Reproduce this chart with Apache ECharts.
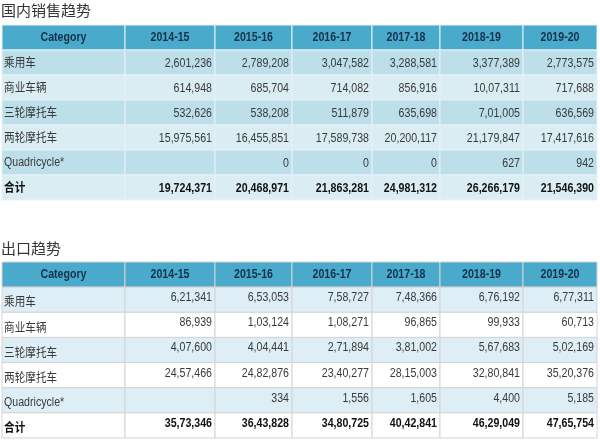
<!DOCTYPE html>
<html>
<head>
<meta charset="utf-8">
<script src="https://cdn.jsdelivr.net/npm/echarts@6/dist/echarts.min.js"></script>
<style>
  html, body { margin: 0; padding: 0; background: #ffffff; }
  #main { width: 600px; height: 442px; }
</style>
</head>
<body>
<div id="main"></div>
<script>
// 表头与分类
var years = ['2014-15', '2015-16', '2016-17', '2017-18', '2018-19', '2019-20'];
var categories = ['乘用车', '商业车辆', '三轮摩托车', '两轮摩托车', 'Quadricycle*', '合计'];

// 国内销售趋势（按图中原样书写）
var domPassenger  = ['2,601,236', '2,789,208', '3,047,582', '3,288,581', '3,377,389', '2,773,575'];
var domCommercial = ['614,948', '685,704', '714,082', '856,916', '10,07,311', '717,688'];
var domThreeWheel = ['532,626', '538,208', '511,879', '635,698', '7,01,005', '636,569'];
var domTwoWheel   = ['15,975,561', '16,455,851', '17,589,738', '20,200,117', '21,179,847', '17,417,616'];
var domQuad       = ['', '0', '0', '0', '627', '942'];
var domTotal      = ['19,724,371', '20,468,971', '21,863,281', '24,981,312', '26,266,179', '21,546,390'];

// 出口趋势
var expPassenger  = ['6,21,341', '6,53,053', '7,58,727', '7,48,366', '6,76,192', '6,77,311'];
var expCommercial = ['86,939', '1,03,124', '1,08,271', '96,865', '99,933', '60,713'];
var expThreeWheel = ['4,07,600', '4,04,441', '2,71,894', '3,81,002', '5,67,683', '5,02,169'];
var expTwoWheel   = ['24,57,466', '24,82,876', '23,40,277', '28,15,003', '32,80,841', '35,20,376'];
var expQuad       = ['', '334', '1,556', '1,605', '4,400', '5,185'];
var expTotal      = ['35,73,346', '36,43,828', '34,80,725', '40,42,841', '46,29,049', '47,65,754'];

// 列宽（布局用）
var colWidths = [123, 90, 77, 80, 68, 83, 74];
var edges = [0];
colWidths.forEach(function (w, i) { edges.push(edges[i] + w); });
var totalWidth = edges[edges.length - 1];

var LATIN = "'Liberation Sans', Arial, sans-serif";
var CJK = "'Noto Sans CJK SC', sans-serif";
var SQUEEZE = 0.85; // 原图文字偏窄

function buildCells(rows) {
  var cells = [];
  var header = ['Category'].concat(years);
  header.forEach(function (t, c) { cells.push([c, 0, t]); });
  rows.forEach(function (row, r) {
    cells.push([0, r + 1, categories[r]]);
    row.forEach(function (t, c) { cells.push([c + 1, r + 1, t]); });
  });
  return cells;
}

function makeRender(cells, theme) {
  return function (params, api) {
    var c = api.value(0), r = api.value(1);
    var text = cells[params.dataIndex][2];
    var x0 = api.coord([edges[c], r])[0];
    var x1 = api.coord([edges[c + 1], r])[0];
    var yc = api.coord([0, r])[1];
    var h = api.size([0, 1])[1];
    var fill = r === 0 ? theme.header : (r % 2 === 1 ? theme.odd : theme.even);
    var isCjk = /[\u4e00-\u9fff]/.test(text);
    var bold = r === 0 || r === 6;
    var style = {
      text: text,
      x: 0, y: 0,
      fill: r === 0 ? '#13324b' : (r === 6 ? '#111' : '#3a3a3a'),
      font: (bold ? 'bold ' : '') + (isCjk ? '12.5px ' + CJK : '12.5px ' + LATIN),
      textVerticalAlign: 'middle'
    };
    var tx, ty = yc;
    if (r === 0) { tx = (x0 + x1) / 2; style.textAlign = 'center'; }
    else if (c === 0) { tx = x0 + 2; style.textAlign = 'left'; ty = yc + theme.labelShift; }
    else { tx = x1 - 3; style.textAlign = 'right'; ty = yc + theme.numShift; }
    return {
      type: 'group',
      children: [
        { type: 'rect', shape: { x: x0, y: yc - h / 2, width: x1 - x0, height: h },
          style: { fill: fill, stroke: theme.border, lineWidth: 1 } },
        { type: 'text', x: tx, y: ty, scaleX: SQUEEZE, style: style }
      ]
    };
  };
}

var domCells = buildCells([domPassenger, domCommercial, domThreeWheel, domTwoWheel, domQuad, domTotal]);
var expCells = buildCells([expPassenger, expCommercial, expThreeWheel, expTwoWheel, expQuad, expTotal]);
var rowNames = ['Category'].concat(categories);

var chart = echarts.init(document.getElementById('main'));
chart.setOption({
  animation: false,
  backgroundColor: '#ffffff',
  title: [
    { text: '国内销售趋势', left: 1, top: 3, padding: 0,
      textStyle: { fontFamily: CJK, fontSize: 15, fontWeight: 'normal', color: '#333' } },
    { text: '出口趋势', left: 1, top: 241, padding: 0,
      textStyle: { fontFamily: CJK, fontSize: 15, fontWeight: 'normal', color: '#333' } }
  ],
  grid: [
    { left: 2, top: 25, width: totalWidth, height: 175 },
    { left: 2, top: 262, width: totalWidth, height: 176 }
  ],
  xAxis: [
    { type: 'value', gridIndex: 0, min: 0, max: totalWidth, show: false },
    { type: 'value', gridIndex: 1, min: 0, max: totalWidth, show: false }
  ],
  yAxis: [
    { type: 'category', gridIndex: 0, data: rowNames, inverse: true, show: false },
    { type: 'category', gridIndex: 1, data: rowNames, inverse: true, show: false }
  ],
  series: [
    { type: 'custom', xAxisIndex: 0, yAxisIndex: 0, silent: true,
      data: domCells.map(function (d) { return [d[0], d[1]]; }),
      renderItem: makeRender(domCells, { header: '#4aaacb', odd: '#bcdfea', even: '#d9edf3', border: '#e6f2f6', labelShift: 0, numShift: 1 }) },
    { type: 'custom', xAxisIndex: 1, yAxisIndex: 1, silent: true,
      data: expCells.map(function (d) { return [d[0], d[1]]; }),
      renderItem: makeRender(expCells, { header: '#4aaacb', odd: '#ddeef6', even: '#ffffff', border: '#d4d4d4', labelShift: 2, numShift: -2 }) }
  ]
});
</script>
</body>
</html>
